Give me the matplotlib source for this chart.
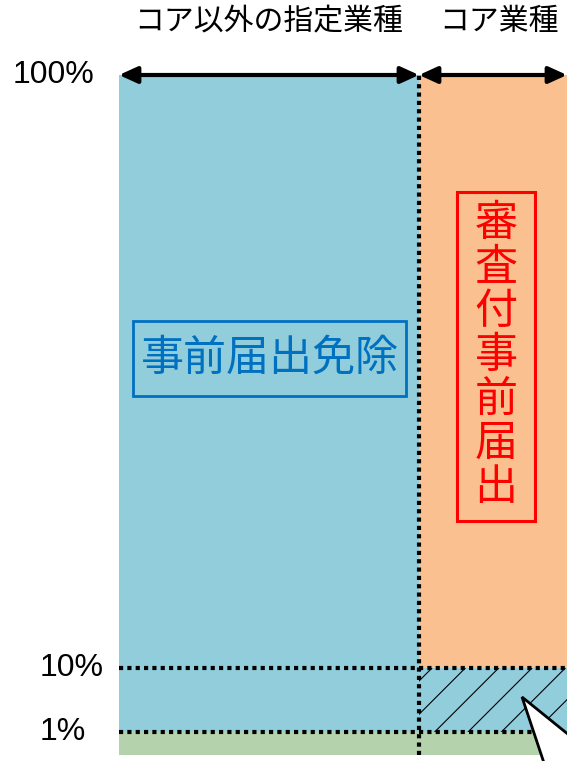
import numpy as np
import matplotlib.pyplot as plt
from matplotlib.patches import Rectangle, Polygon

plt.rcParams['font.family'] = ['Noto Sans CJK JP', 'DejaVu Sans']
plt.rcParams['hatch.linewidth'] = 0.8

# データ
categories = ['コア以外の指定業種', 'コア業種']
col_widths = [300, 148]
levels = [100, 10, 1]
level_labels = ['100%', '10%', '1%']
label_box_blue = '事前届出免除'
label_box_red = '審査付事前届出'

# 各列の帯 (下端, 上端)
noncore_bands = [(0, 1), (1, 100)]
core_bands = [(0, 1), (1, 10), (10, 100)]

c_blue = '#92CDDC'
c_orange = '#FAC090'
c_green = '#B4D3AC'

W, H = 567, 761
fig = plt.figure(figsize=(W / 100, H / 100), dpi=100)
ax = fig.add_axes([0, 0, 1, 1])

# 模式図なので縦軸は区分線形のスケール
lev_pts = [-1000, 0, 1, 10, 100, 1000]
px_pts = [-994, 6, 29, 93, 686, 1586]
fwd = lambda v: np.interp(v, lev_pts, px_pts)
inv = lambda p: np.interp(p, px_pts, lev_pts)
ax.set_yscale('function', functions=(fwd, inv))
ax.set_ylim(inv(0), inv(H))
ax.set_xlim(0, W)
ax.axis('off')

x0 = 119
lefts = x0 + np.concatenate([[0], np.cumsum(col_widths)[:-1]])
rights = lefts + np.array(col_widths)

# コア以外
cols_nc = [c_green, c_blue]
for (b, t), c in zip(noncore_bands, cols_nc):
    ax.bar(lefts[0], t - b, width=col_widths[0], bottom=b, align='edge', color=c, lw=0)

# コア業種
cols_c = [c_green, c_blue, c_orange]
hatches = [None, '/', None]
for (b, t), c, h in zip(core_bands, cols_c, hatches):
    ax.bar(lefts[1], t - b, width=col_widths[1], bottom=b, align='edge', color=c,
           lw=0, hatch=h, edgecolor='black' if h else c)

# 点線
dot = (0, (1, 1))
ax.vlines(lefts[1], 0, 100, colors='black', lw=3, linestyles=dot)
for lv in levels[1:]:
    ax.hlines(lv, lefts[0], rights[1], colors='black', lw=3, linestyles=dot)

# 上部の矢印
for i in range(2):
    ax.annotate('', xy=(lefts[i], 100), xytext=(rights[i], 100),
                arrowprops=dict(arrowstyle='<|-|>,head_length=1.1,head_width=0.5',
                                lw=3, color='black', shrinkA=0, shrinkB=0,
                                mutation_scale=10))
    ax.text((lefts[i] + rights[i]) / 2 + (0 if i == 0 else 6), inv(H - 22), categories[i],
            ha='center', va='center', fontsize=21.5)

# 目盛ラベル
label_x = [13, 40, 40]
for lv, lab, lx in zip(levels, level_labels, label_x):
    ax.text(lx, lv, lab, ha='left', va='center', fontsize=23, family='Liberation Sans')

# 重ね描き用 (ピクセル座標)
ov = fig.add_axes([0, 0, 1, 1])
ov.set_xlim(0, W)
ov.set_ylim(H, 0)
ov.axis('off')
ov.patch.set_alpha(0)

ov.add_patch(Rectangle((133, 321), 273, 75, fill=False, ec='#0070C0', lw=2))
ov.text(270, 359, label_box_blue, ha='center', va='center', fontsize=31, color='#0070C0')

ov.add_patch(Rectangle((457, 192), 78, 329, fill=False, ec='#FF0000', lw=2.2))
ov.text(496, 356, '\n'.join(label_box_red), ha='center', va='center', fontsize=31,
        color='#FF0000', linespacing=1.0)

# 吹き出しの先端
ov.add_patch(Polygon([(522, 697), (548, 775), (590, 752)], closed=True,
                     fc='white', ec='black', lw=2, clip_on=True))

fig.savefig('out.png', dpi=100)
